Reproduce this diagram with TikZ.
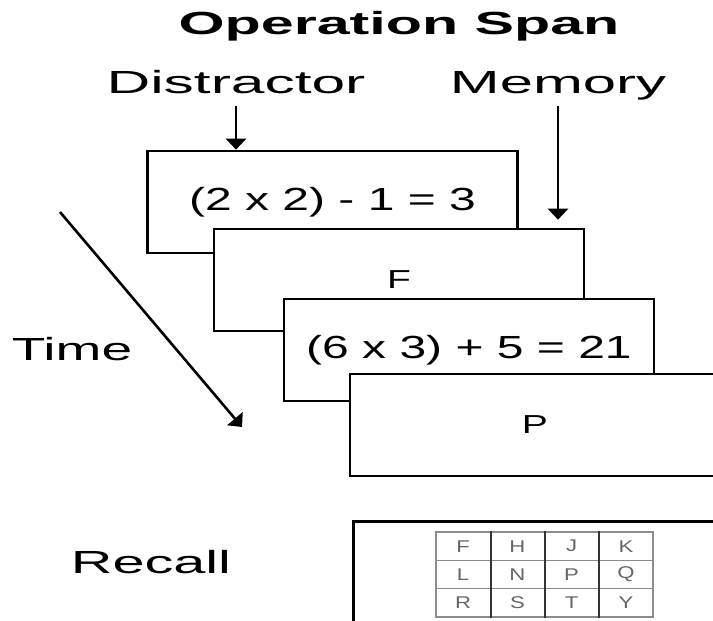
\documentclass[tikz,border=0pt]{standalone}
\usepackage{fontspec}
\setmainfont{Liberation Sans}
\usepackage{graphicx}
\usetikzlibrary{arrows.meta}
% stretch text sideways, as in the scanned figure
\newcommand{\xwide}[2]{\scalebox{#1}[1]{#2}}
\tikzset{
  card/.style={draw, fill=white, line width=1.3pt, minimum width=185pt,
    minimum height=51pt, inner sep=0pt, font=\fontsize{16}{18}\selectfont},
  lbl/.style={inner sep=0pt, anchor=base, font=\fontsize{16}{18}\selectfont},
  arr/.style={line width=1.3pt, -{Triangle[length=5.5pt,width=10pt]}},
  cell/.style={draw=black!45, line width=0.6pt, minimum width=27.125pt,
    minimum height=14.17pt, inner sep=0pt, text=black!60,
    font=\fontsize{8.5}{9}\selectfont},
  colsep/.style={draw=black!80, line width=1pt}
}
\begin{document}
\begin{tikzpicture}[x=0.5pt, y=-0.5pt]
\useasboundingbox (0,0) rectangle (713,621);
\clip (0,0) rectangle (713,621);
% labels
\node[lbl, font=\fontsize{16}{18}\selectfont\bfseries] (title) at (399,34) {\xwide{1.85}{Operation Span}};
\node[lbl] (dis) at (236,93) {\xwide{1.89}{Distractor}};
\node[lbl] (mem) at (558,93) {\xwide{1.87}{Memory}};
\node[lbl] (time) at (72,360) {\xwide{1.72}{Time}};
\node[lbl] (rec) at (151,573) {\xwide{1.8}{Recall}};
% stacked trials
\node[card] (d1) at (332.5,202) {\xwide{1.5}{(2 x 2) - 1 = 3}};
\node[card] (m1) at (399,280) {\fontsize{13}{14}\selectfont\xwide{1.5}{F}};
\node[card] (d2) at (469,350) {\xwide{1.5}{(6 x 3) + 5 = 21}};
\node[card] (m2) at (535,425) {\fontsize{13}{14}\selectfont\xwide{1.5}{P}};
% recall screen
\node[card, anchor=north west, minimum width=190pt, minimum height=60pt] (rc) at (352,520) {};
\node[cell] (gF) at (463.1,546.2) {\xwide{1.3}{F}};
\node[cell] (gH) at (517.4,546.2) {\xwide{1.3}{H}};
\node[cell] (gJ) at (571.6,546.2) {\xwide{1.3}{J}};
\node[cell] (gK) at (625.9,546.2) {\xwide{1.3}{K}};
\node[cell] (gL) at (463.1,574.5) {\xwide{1.3}{L}};
\node[cell] (gN) at (517.4,574.5) {\xwide{1.3}{N}};
\node[cell] (gP) at (571.6,574.5) {\xwide{1.3}{P}};
\node[cell] (gQ) at (625.9,574.5) {\xwide{1.3}{Q}};
\node[cell] (gR) at (463.1,602.8) {\xwide{1.3}{R}};
\node[cell] (gS) at (517.4,602.8) {\xwide{1.3}{S}};
\node[cell] (gT) at (571.6,602.8) {\xwide{1.3}{T}};
\node[cell] (gY) at (625.9,602.8) {\xwide{1.3}{Y}};
\draw[colsep] (gF.north east) -- (gR.south east);
\draw[colsep] (gH.north east) -- (gS.south east);
\draw[colsep] (gJ.north east) -- (gT.south east);
% arrows
\draw[arr, shorten <=6pt] (dis.south) -- (dis.south |- d1.north);
\draw[arr, shorten <=3pt, shorten >=4pt] (mem.south) -- (mem.south |- m1.north);
\coordinate (t0) at (60,212);
\coordinate (t1) at (242,427);
\draw[arr, line width=1.3pt] (t0) -- (t1);
\end{tikzpicture}
\end{document}
